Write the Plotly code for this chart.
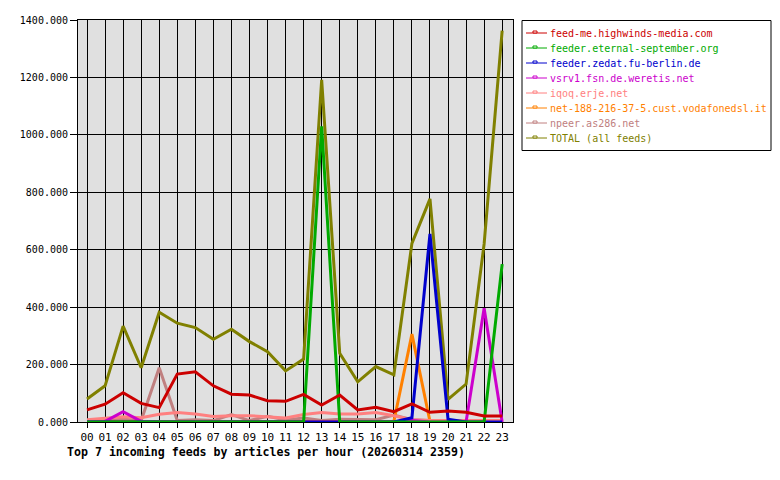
import plotly.graph_objects as go

hours = ["00", "01", "02", "03", "04", "05", "06", "07", "08", "09", "10", "11",
         "12", "13", "14", "15", "16", "17", "18", "19", "20", "21", "22", "23"]

feed_names = [
    "feed-me.highwinds-media.com",
    "feeder.eternal-september.org",
    "feeder.zedat.fu-berlin.de",
    "vsrv1.fsn.de.weretis.net",
    "iqoq.erje.net",
    "net-188-216-37-5.cust.vodafonedsl.it",
    "npeer.as286.net",
    "TOTAL (all feeds)",
]
feed_colors = ["#cc0000", "#00aa00", "#0000cc", "#cc00cc",
               "#ff8080", "#ff8000", "#c08080", "#808000"]

highwinds = [42, 62, 102, 65, 50, 167, 175, 126, 97, 94, 74, 72,
             96, 59, 94, 42, 51, 36, 63, 34, 38, 34, 21, 21]
eternal = [0, 0, 0, 0, 0, 0, 0, 0, 0, 0, 0, 0,
           0, 1030, 0, 0, 0, 0, 0, 0, 0, 0, 0, 550]
zedat = [0, 0, 0, 0, 0, 0, 0, 0, 0, 0, 0, 0,
         0, 0, 0, 0, 0, 0, 15, 655, 10, 0, 0, 0]
weretis = [0, 2, 36, 2, 0, 0, 0, 0, 0, 0, 0, 0,
           0, 0, 0, 0, 0, 0, 5, 0, 0, 0, 396, 0]
iqoq = [8, 12, 18, 15, 27, 33, 28, 19, 22, 22, 18, 14,
        26, 33, 28, 28, 33, 22, 8, 5, 5, 5, 5, 5]
vodafone = [2, 2, 2, 2, 2, 2, 2, 2, 2, 2, 2, 2,
            2, 2, 2, 2, 2, 2, 306, 2, 2, 2, 2, 2]
npeer = [5, 5, 10, 5, 189, 5, 8, 5, 26, 5, 20, 7,
         14, 5, 10, 10, 8, 24, 8, 5, 5, 5, 5, 5]
total = [80, 126, 334, 189, 382, 344, 329, 288, 323, 280, 245, 178,
         219, 1192, 239, 140, 193, 164, 622, 777, 79, 132, 620, 1363]

series = [highwinds, eternal, zedat, weretis, iqoq, vodafone, npeer, total]
y_ticks = [0, 200, 400, 600, 800, 1000, 1200, 1400]

FONT = "DejaVu Sans Mono"

# plot area geometry in pixels (for legend/title placement)
PL, PR, PT, PB = 78, 513, 20, 422
W, H = 780, 480


def px(x):
    return (x - PL) / (PR - PL)


def py(y):
    return (PB - y) / (PB - PT)


fig = go.Figure()
# draw in reverse so the first feed sits on top
for i in reversed(range(len(series))):
    fig.add_trace(go.Scatter(
        x=hours, y=series[i], name=feed_names[i], mode="lines",
        line=dict(color=feed_colors[i], width=3),
        showlegend=False,
    ))

fig.update_layout(
    width=W, height=H,
    margin=dict(l=PL, r=W - PR, t=PT, b=H - PB, autoexpand=False),
    paper_bgcolor="white",
    plot_bgcolor="#e0e0e0",
    font=dict(family=FONT, size=10, color="black"),
    showlegend=False,
)

fig.update_xaxes(
    type="category", range=[-0.5, 23.6],
    showgrid=True, gridcolor="black", gridwidth=1,
    showline=True, linecolor="black", linewidth=1, mirror=True,
    ticks="outside", ticklen=5, tickcolor="black",
    tickfont=dict(family=FONT, size=11, color="black"),
    zeroline=False,
)
fig.update_yaxes(
    range=[0, 1400], tickvals=y_ticks, tickformat=".3f",
    showgrid=True, gridcolor="black", gridwidth=1,
    showline=True, linecolor="black", linewidth=1, mirror=True,
    ticks="outside", ticklen=7, tickcolor="black",
    tickfont=dict(family=FONT, size=10, color="black"),
    zeroline=False,
)

# custom legend box
shapes = [dict(type="rect", xref="paper", yref="paper",
               x0=px(522), x1=px(771), y0=py(150.5), y1=py(20.5),
               line=dict(color="black", width=1), fillcolor="white", layer="above")]
annotations = []
for i, (name, col) in enumerate(zip(feed_names, feed_colors)):
    yc = 33 + 15 * i
    shapes.append(dict(type="line", xref="paper", yref="paper",
                       x0=px(526), x1=px(547), y0=py(yc), y1=py(yc),
                       line=dict(color=col, width=1), layer="above"))
    shapes.append(dict(type="rect", xref="paper", yref="paper",
                       x0=px(533), x1=px(537), y0=py(yc), y1=py(yc - 2),
                       line=dict(color=col, width=1), fillcolor="white", layer="above"))
    annotations.append(dict(text=name, xref="paper", yref="paper",
                            x=px(549), y=py(yc), xanchor="left", yanchor="middle",
                            showarrow=False, borderpad=0,
                            font=dict(family=FONT, size=10, color=col)))

annotations.append(dict(
    text="<b>Top 7 incoming feeds by articles per hour (20260314 2359)</b>",
    xref="paper", yref="paper",
    x=px(65), y=py(452),
    xanchor="left", yanchor="middle", showarrow=False,
    font=dict(family=FONT, size=11.6, color="black"),
))

fig.update_layout(shapes=shapes, annotations=annotations)

fig.write_html("out.html")
